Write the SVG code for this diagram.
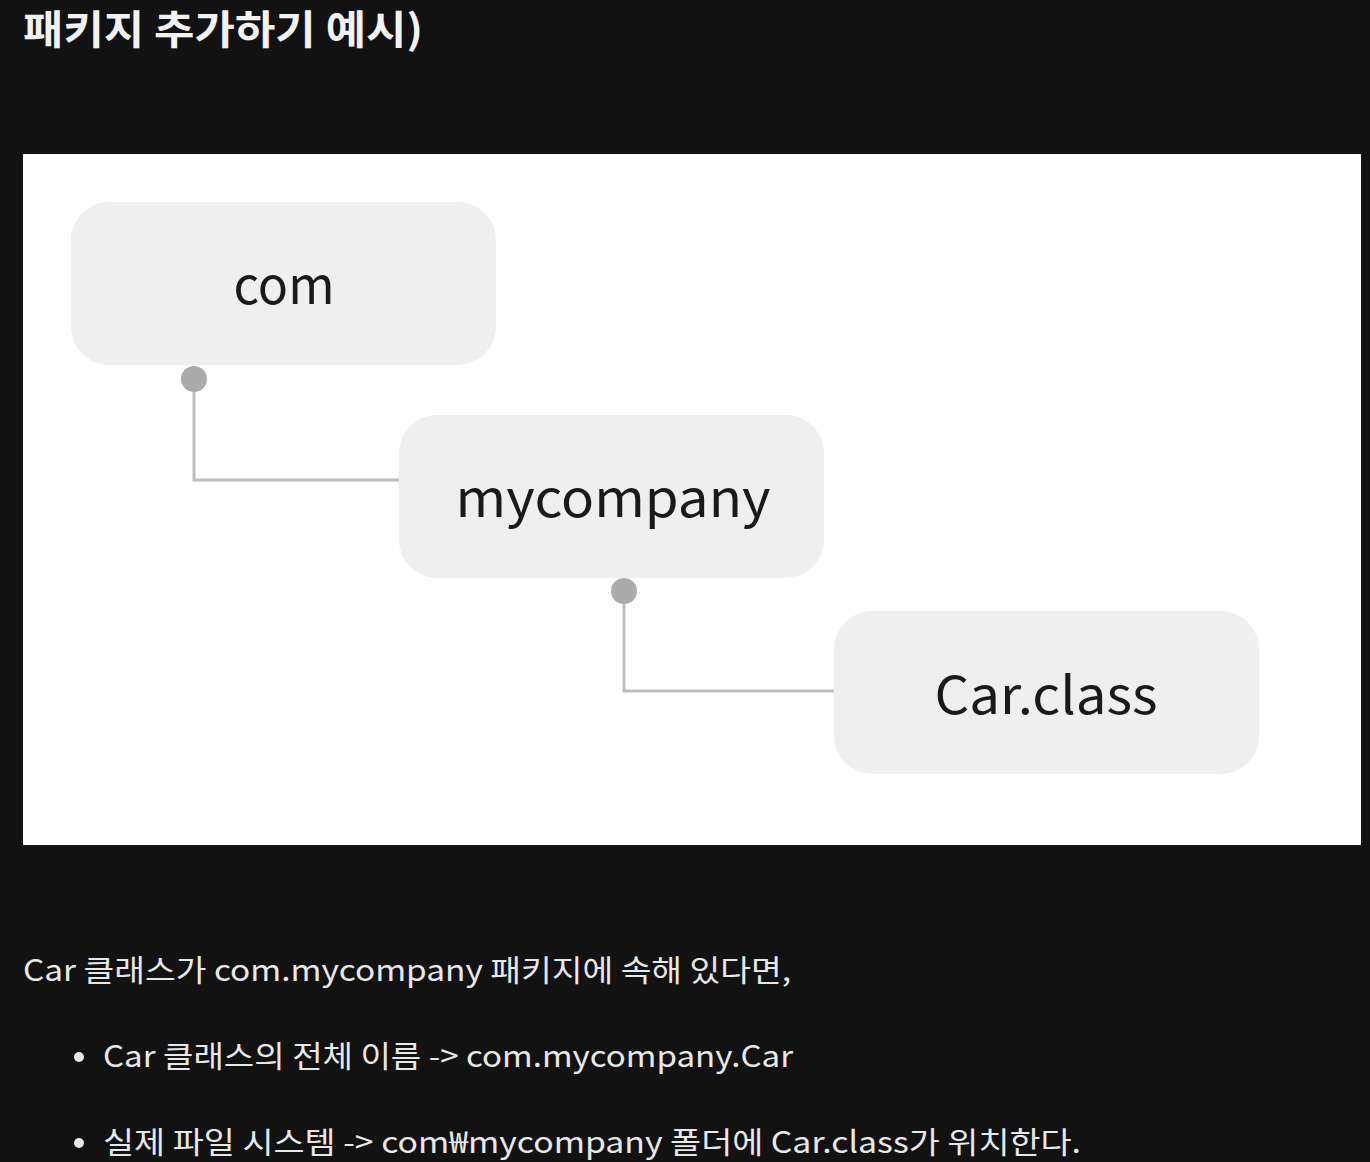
<svg xmlns="http://www.w3.org/2000/svg" width="1370" height="1162" viewBox="0 0 1370 1162">
<style>
.node rect{fill:#efefef}
.node text{font-family:"Noto Sans CJK KR","Noto Sans",sans-serif;font-size:52px;fill:#1a1a1a;text-anchor:middle}
.conn path{fill:none;stroke:#bdbdbd;stroke-width:3}
.conn circle{fill:#ababab}
.body{font-family:"Noto Sans CJK KR","Noto Sans",sans-serif;font-size:30px;fill:#e8e8e8}
</style>
<rect width="1370" height="1162" fill="#121212"/>
<text x="23" y="44" font-family="'Noto Sans CJK KR',sans-serif" font-size="40" font-weight="bold" fill="#f2f2f2" textLength="400" lengthAdjust="spacingAndGlyphs">패키지 추가하기 예시)</text>
<rect x="23" y="154" width="1338" height="691" fill="#ffffff"/>
<g class="conn">
<path d="M194 379 V480 H403"/>
<circle cx="194" cy="379" r="13"/>
<path d="M624 591 V691 H834"/>
<circle cx="624" cy="591" r="13"/>
</g>
<g id="com" class="node"><rect x="71" y="202" width="425" height="163" rx="38"/><text x="284" y="304" textLength="101" lengthAdjust="spacingAndGlyphs">com</text></g>
<g id="mycompany" class="node"><rect x="399" y="415" width="425" height="163" rx="38"/><text x="613" y="517" textLength="315" lengthAdjust="spacingAndGlyphs">mycompany</text></g>
<g id="carclass" class="node"><rect x="834" y="611" width="425" height="163" rx="38"/><text x="1046" y="714" textLength="223" lengthAdjust="spacingAndGlyphs">Car.class</text></g>
<text class="body" x="23" y="981" textLength="768" lengthAdjust="spacingAndGlyphs">Car 클래스가 com.mycompany 패키지에 속해 있다면,</text>
<circle cx="79" cy="1057" r="5" fill="#e8e8e8"/>
<text class="body" x="103" y="1067" textLength="690" lengthAdjust="spacingAndGlyphs">Car 클래스의 전체 이름 -&gt; com.mycompany.Car</text>
<circle cx="79" cy="1143" r="5" fill="#e8e8e8"/>
<text class="body" x="103" y="1153" textLength="978" lengthAdjust="spacingAndGlyphs">실제 파일 시스템 -&gt; com₩mycompany 폴더에 Car.class가 위치한다.</text>
</svg>
